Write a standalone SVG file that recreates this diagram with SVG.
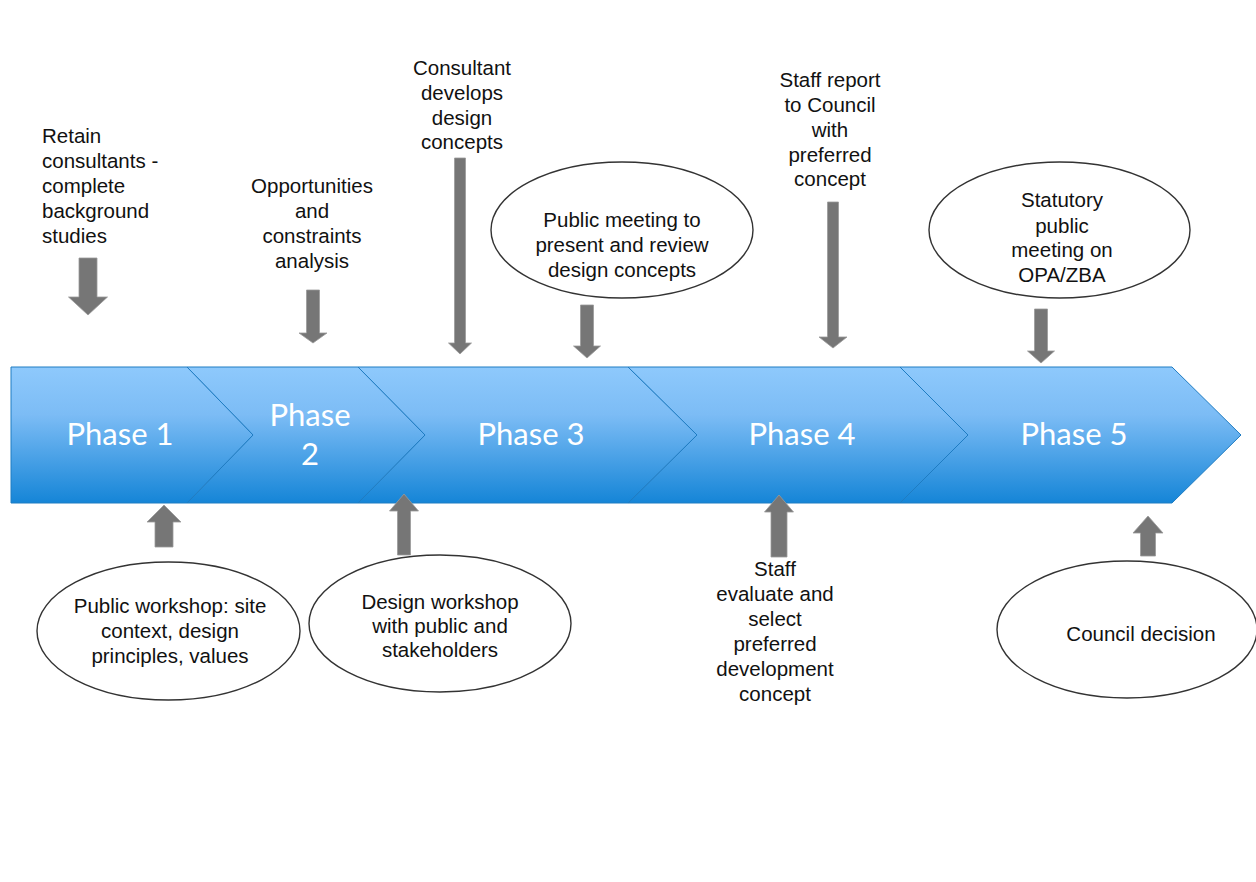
<svg xmlns="http://www.w3.org/2000/svg" width="1256" height="882" viewBox="0 0 1256 882">
<style>
.lbl{font-family:"Liberation Sans",Arial,sans-serif;font-size:20.5px;fill:#111;text-anchor:middle}
.lft{text-anchor:start}
.ph{font-family:Lato,"Noto Sans",sans-serif;font-size:31px;fill:#fff;text-anchor:middle}
.chev{fill:url(#bandGrad);stroke:#1f7cc2;stroke-width:1}
.ell{fill:#fff;stroke:#333;stroke-width:1.4}
.arr{fill:#767676;stroke:#9a9a9a;stroke-width:0.8}
</style>
<defs>
<linearGradient id="bandGrad" gradientUnits="userSpaceOnUse" x1="0" y1="367" x2="0" y2="503">
<stop offset="0" stop-color="#8ec9fc"/>
<stop offset="0.35" stop-color="#7cbcf5"/>
<stop offset="1" stop-color="#1585d7"/>
</linearGradient>
</defs>
<rect width="1256" height="882" fill="#fff"/>

<g id="phase5"><polygon class="chev" points="900,367 1172,367 1241,435 1172,503 900,503 968,435"/><text class="ph" x="1074" y="445">Phase 5</text></g>
<g id="phase4"><polygon class="chev" points="628,367 900,367 968,435 900,503 628,503 697,435"/><text class="ph" x="802" y="445">Phase 4</text></g>
<g id="phase3"><polygon class="chev" points="358,367 628,367 697,435 628,503 358,503 425,435"/><text class="ph" x="531" y="445">Phase 3</text></g>
<g id="phase2"><polygon class="chev" points="187,367 358,367 425,435 358,503 187,503 253,435"/><text class="ph" x="310" y="426">Phase</text><text class="ph" x="310" y="465">2</text></g>
<g id="phase1"><polygon class="chev" points="11,367 187,367 253,435 187,503 11,503"/><text class="ph" x="120" y="445">Phase 1</text></g>

<g id="retain">
<text class="lbl lft" x="42" y="143">Retain</text>
<text class="lbl lft" x="42" y="168">consultants -</text>
<text class="lbl lft" x="42" y="193">complete</text>
<text class="lbl lft" x="42" y="218">background</text>
<text class="lbl lft" x="42" y="243">studies</text>
</g>
<g id="opportunities">
<text class="lbl" x="312" y="193">Opportunities</text>
<text class="lbl" x="312" y="218">and</text>
<text class="lbl" x="312" y="243">constraints</text>
<text class="lbl" x="312" y="268">analysis</text>
</g>
<g id="consultant">
<text class="lbl" x="462" y="75">Consultant</text>
<text class="lbl" x="462" y="100">develops</text>
<text class="lbl" x="462" y="125">design</text>
<text class="lbl" x="462" y="149">concepts</text>
</g>
<g id="publicMeeting">
<ellipse class="ell" cx="622" cy="230" rx="131" ry="68"/>
<text class="lbl" x="622" y="227">Public meeting to</text>
<text class="lbl" x="622" y="252">present and review</text>
<text class="lbl" x="622" y="277">design concepts</text>
</g>
<g id="staffReport">
<text class="lbl" x="830" y="87">Staff report</text>
<text class="lbl" x="830" y="112">to Council</text>
<text class="lbl" x="830" y="137">with</text>
<text class="lbl" x="830" y="162">preferred</text>
<text class="lbl" x="830" y="186">concept</text>
</g>
<g id="statutory">
<ellipse class="ell" cx="1059.5" cy="230" rx="130.5" ry="68"/>
<text class="lbl" x="1062" y="207">Statutory</text>
<text class="lbl" x="1062" y="233">public</text>
<text class="lbl" x="1062" y="257">meeting on</text>
<text class="lbl" x="1062" y="282">OPA/ZBA</text>
</g>
<g id="publicWorkshop">
<ellipse class="ell" cx="168.5" cy="631" rx="131.5" ry="69"/>
<text class="lbl" x="170" y="613">Public workshop: site</text>
<text class="lbl" x="170" y="638">context, design</text>
<text class="lbl" x="170" y="663">principles, values</text>
</g>
<g id="designWorkshop">
<ellipse class="ell" cx="440" cy="623.5" rx="131" ry="68.5"/>
<text class="lbl" x="440" y="609">Design workshop</text>
<text class="lbl" x="440" y="633">with public and</text>
<text class="lbl" x="440" y="657">stakeholders</text>
</g>
<g id="staffEvaluate">
<text class="lbl" x="775" y="576">Staff</text>
<text class="lbl" x="775" y="601">evaluate and</text>
<text class="lbl" x="775" y="626">select</text>
<text class="lbl" x="775" y="651">preferred</text>
<text class="lbl" x="775" y="676">development</text>
<text class="lbl" x="775" y="701">concept</text>
</g>
<g id="councilDecision">
<ellipse class="ell" cx="1127" cy="629.5" rx="130" ry="68.5"/>
<text class="lbl" x="1141" y="641">Council decision</text>
</g>

<g id="connectors">
<polygon class="arr" points="79,258 97,258 97,297 107.5,297 88,315 68.5,297 79,297"/>
<polygon class="arr" points="306.5,290 319.5,290 319.5,333 327,333 313,343 299,333 306.5,333"/>
<polygon class="arr" points="454.5,158 465.5,158 465.5,343 471.5,343 460,354 448.5,343 454.5,343"/>
<polygon class="arr" points="580.5,305 593.5,305 593.5,346 600.5,346 587,358 573.5,346 580.5,346"/>
<polygon class="arr" points="827.5,202 838.5,202 838.5,337 847,337 833,348 819,337 827.5,337"/>
<polygon class="arr" points="1034.5,309 1047.5,309 1047.5,351 1054.5,351 1041,363 1027.5,351 1034.5,351"/>
<polygon class="arr" points="155,547 173,547 173,522 181,522 164,505 147,522 155,522"/>
<polygon class="arr" points="397.5,555 410.5,555 410.5,511 418.5,511 404,494 389.5,511 397.5,511"/>
<polygon class="arr" points="771,557 787,557 787,512 793.5,512 779,495 764.5,512 771,512"/>
<polygon class="arr" points="1140.5,556 1155.5,556 1155.5,533 1163,533 1148,516 1133,533 1140.5,533"/>
</g>
</svg>
